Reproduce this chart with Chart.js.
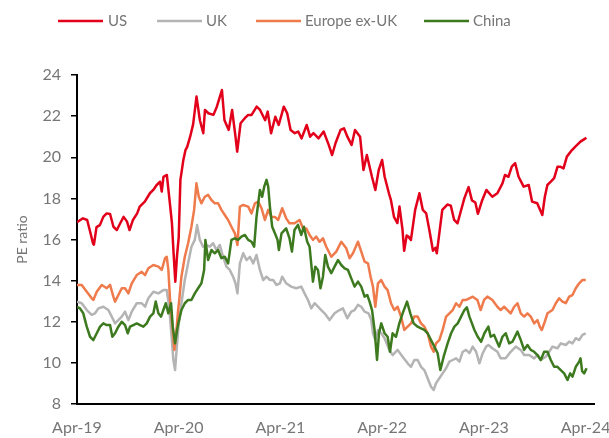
<!DOCTYPE html>
<html>
<head>
<meta charset="utf-8">
<script src="https://cdn.jsdelivr.net/npm/chart.js@4.4.1/dist/chart.umd.min.js"></script>
<style>
html,body{margin:0;padding:0;background:#fff;}
#wrap{position:relative;width:609px;height:438px;}
</style>
</head>
<body>
<div id="wrap"><canvas id="c" width="609" height="438"></canvas></div>
<script>
// ---- data (x = months since Apr-19, y = PE ratio) ----
const tickMonths = [0, 12, 24, 36, 48, 60];
const tickLabels = ['Apr-19', 'Apr-20', 'Apr-21', 'Apr-22', 'Apr-23', 'Apr-24'];
const seriesNames = ['US', 'UK', 'Europe ex-UK', 'China'];

const usPE = [[0,16.84],[0.7,17.03],[1.2,16.95],[1.5,16.46],[1.9,15.8],[2.0,15.75],[2.3,16.6],[2.7,16.7],[3.1,17.1],[3.5,17.27],
[3.9,17.24],[4.3,16.62],[4.7,16.46],[5.1,16.79],[5.5,17.1],[5.9,16.87],[6.2,16.46],[6.6,16.95],[7.1,17.27],[7.4,17.6],
[8.0,17.84],[8.6,18.25],[9.0,18.41],[9.4,18.65],[9.8,18.81],[10.0,18.33],[10.2,19.05],[10.6,19.14],[11.0,17.6],[11.2,16.8],
[11.4,15.3],[11.6,13.95],[11.8,15.2],[12.0,16.1],[12.2,18.9],[12.55,19.87],[12.8,20.35],[13.0,20.5],[13.35,21.0],[13.7,21.6],
[14.1,22.95],[14.5,21.8],[14.9,21.17],[15.1,22.3],[15.5,22.14],[16.1,22.06],[16.5,22.46],[17.1,23.27],[17.4,21.8],[17.9,21.33],
[18.3,22.3],[18.7,21.0],[18.9,20.27],[19.3,21.65],[19.8,21.9],[20.2,22.06],[20.6,22.06],[21.2,22.46],[21.6,22.3],[22.2,21.8],
[22.5,22.22],[22.9,21.17],[23.4,21.97],[23.8,21.57],[24.4,22.46],[24.8,22.14],[25.2,21.33],[25.7,21.17],[26.1,21.25],[26.5,20.92],
[27.1,21.57],[27.5,21.0],[27.9,21.17],[28.5,20.92],[29.1,21.25],[29.7,20.6],[30.1,20.11],[30.5,20.68],[31.1,21.33],[31.5,21.41],
[31.9,21.0],[32.4,20.6],[32.8,21.33],[33.4,21.0],[33.8,19.38],[34.2,20.11],[34.8,19.05],[35.2,18.41],[35.6,19.38],[36.0,19.87],
[36.3,19.05],[36.8,18.25],[37.05,17.9],[37.4,17.1],[37.8,16.8],[38.05,17.6],[38.4,16.5],[38.6,15.45],[38.9,16.2],[39.1,16.14],
[39.4,15.98],[39.9,17.44],[40.4,18.25],[40.8,17.44],[41.2,17.27],[41.6,16.4],[42.0,15.45],[42.3,15.6],[42.45,15.33],[42.75,16.3],
[43.1,17.44],[43.7,17.7],[44.1,17.65],[44.5,16.95],[44.9,16.79],[45.3,17.4],[45.7,18.0],[46.2,18.55],[46.6,17.9],[47.0,17.8],
[47.3,17.25],[47.8,17.9],[48.3,18.41],[49.0,18.08],[49.6,18.25],[50.2,18.73],[50.5,19.14],[50.9,19.05],[51.3,19.54],[51.7,19.71],
[52.1,19.05],[52.7,18.57],[53.3,18.65],[53.7,17.84],[54.3,17.76],[54.9,17.19],[55.2,18.08],[55.5,18.65],[55.9,18.81],[56.3,18.98],
[56.7,19.54],[57.0,19.54],[57.4,19.46],[57.8,20.03],[58.4,20.35],[58.8,20.52],[59.4,20.76],[60.0,20.92],[60.1,20.95]];

const ukPE = [[0,12.98],[0.56,12.9],[1.15,12.57],[1.74,12.33],[2.13,12.41],[2.52,12.65],[3.11,12.73],[3.7,12.57],[4.1,12.25],[4.49,11.92],
[4.88,12.08],[5.28,12.25],[5.67,12.49],[6.06,12.08],[6.46,12.49],[7.05,12.9],[7.64,12.9],[8.03,12.73],[8.42,13.14],[9.01,13.46],
[9.6,13.38],[10.19,13.54],[10.59,13.54],[10.87,12.73],[11.1,11.6],[11.37,10.14],[11.57,9.65],[11.81,10.95],[12.0,11.9],[12.32,12.9],
[12.72,14.03],[13.11,14.84],[13.5,15.65],[13.9,15.98],[14.17,16.7],[14.49,15.98],[14.88,15.65],[15.27,15.73],[15.67,15.65],[16.06,15.82],
[16.45,15.49],[16.85,15.73],[17.24,15.16],[17.63,14.68],[18.03,14.52],[18.42,14.19],[18.7,13.87],[18.93,13.38],[19.22,14.84],[19.61,15.33],
[20.0,15.0],[20.4,15.16],[20.79,14.84],[21.18,15.25],[21.58,14.52],[21.97,14.03],[22.36,14.19],[22.76,14.03],[23.15,14.03],[23.54,13.79],
[23.94,13.87],[24.21,14.19],[24.68,13.87],[25.27,13.71],[25.87,13.63],[26.46,13.71],[26.85,13.38],[27.25,13.06],[27.64,12.65],[28.03,12.9],
[28.43,12.73],[28.82,12.57],[29.21,12.41],[29.8,12.08],[30.39,12.41],[30.98,12.57],[31.38,12.65],[31.89,12.17],[32.36,12.49],[32.75,12.57],
[33.15,12.82],[33.54,12.73],[33.93,12.49],[34.4,12.41],[34.72,12.08],[34.92,11.44],[35.2,11.11],[35.51,11.6],[35.9,11.44],[36.29,11.2],
[36.85,10.63],[37.24,10.38],[37.83,10.63],[38.42,10.3],[39.01,9.98],[39.41,9.81],[39.8,10.14],[40.19,10.14],[40.59,9.81],[40.98,9.65],
[41.37,9.25],[41.77,8.84],[42.08,8.68],[42.36,9.01],[42.75,9.25],[43.14,9.49],[43.55,9.74],[43.94,10.06],[44.33,10.14],[44.73,10.22],
[45.12,10.06],[45.51,10.54],[45.91,10.63],[46.3,10.47],[46.69,10.79],[47.09,10.54],[47.48,9.98],[47.87,10.47],[48.27,10.79],[48.54,10.87],
[49.01,10.71],[49.6,10.54],[49.99,10.22],[50.58,10.22],[51.17,10.54],[51.77,10.79],[52.36,10.63],[52.76,10.38],[53.35,10.38],[53.94,10.22],
[54.33,10.38],[54.72,10.14],[55.31,10.3],[55.71,10.54],[56.1,10.79],[56.69,10.71],[57.08,10.95],[57.67,10.87],[58.07,11.03],[58.46,10.95],
[58.85,11.2],[59.25,11.11],[59.64,11.36],[60.03,11.44]];

const europePE = [[0,13.79],[0.56,13.79],[1.15,13.46],[1.74,13.14],[1.93,13.06],[2.33,13.46],[2.92,13.79],[3.51,13.63],[3.9,13.79],[4.29,13.22],
[4.49,12.98],[4.88,13.3],[5.28,13.63],[5.67,13.63],[6.06,13.38],[6.46,13.87],[7.05,14.27],[7.64,14.43],[8.03,14.27],[8.42,14.6],
[9.01,14.76],[9.6,14.68],[10.0,14.52],[10.39,15.09],[10.59,15.16],[10.78,14.52],[10.98,13.06],[11.26,11.76],[11.49,10.63],[11.77,11.76],
[11.93,12.57],[12.05,13.0],[12.32,14.19],[12.72,15.16],[13.11,15.82],[13.5,16.62],[13.82,17.44],[14.09,18.73],[14.37,18.08],[14.68,17.76],
[15.08,18.08],[15.47,18.17],[15.86,17.92],[16.26,17.76],[16.65,17.76],[17.04,17.44],[17.44,17.19],[17.83,16.95],[18.22,16.62],[18.63,16.3],
[18.93,15.73],[19.22,17.6],[19.61,17.68],[20.2,17.6],[20.59,17.27],[20.99,17.76],[21.38,17.84],[21.77,17.52],[22.17,16.95],[22.56,17.44],
[22.95,17.1],[23.35,17.1],[23.74,16.95],[24.21,17.52],[24.68,17.03],[25.07,16.79],[25.66,16.79],[26.26,16.95],[26.66,16.54],[27.05,16.54],
[27.44,16.22],[27.84,15.98],[28.23,16.14],[28.62,15.89],[29.02,16.06],[29.41,15.65],[30.0,15.16],[30.59,15.41],[31.18,15.89],[31.77,15.57],
[32.16,15.09],[32.56,15.33],[33.15,15.89],[33.54,15.41],[33.93,14.92],[34.33,14.84],[34.64,14.19],[34.92,13.71],[35.2,12.73],[35.51,13.87],
[35.9,14.03],[36.29,13.71],[36.65,13.54],[37.05,12.9],[37.44,12.57],[37.83,12.73],[38.23,12.25],[38.62,11.6],[39.01,11.76],[39.41,11.92],
[39.8,12.25],[40.19,12.25],[40.59,11.92],[40.98,11.76],[41.37,11.44],[41.77,10.79],[42.08,10.54],[42.36,10.95],[42.75,11.11],[43.14,11.6],
[43.55,12.25],[43.94,12.41],[44.33,12.57],[44.73,12.9],[45.12,12.73],[45.51,13.06],[45.91,13.06],[46.3,13.14],[46.69,13.22],[47.24,13.06],
[47.63,12.57],[48.03,13.06],[48.42,13.22],[49.01,13.06],[49.6,12.73],[49.99,12.57],[50.4,12.73],[50.79,12.57],[51.17,12.41],[51.58,12.73],
[51.97,12.9],[52.36,12.41],[52.76,12.25],[53.15,12.41],[53.54,12.25],[53.94,11.92],[54.33,12.08],[54.6,11.76],[54.84,11.6],[55.19,12.0],
[55.51,12.41],[56.1,12.57],[56.49,12.9],[56.89,13.14],[57.28,12.98],[57.67,12.9],[58.07,13.22],[58.46,13.3],[58.85,13.63],[59.25,13.87],
[59.64,14.03],[60.03,14.03]];

const chinaPE = [[0,12.73],[0.35,12.65],[0.74,12.41],[1.15,11.76],[1.54,11.27],[1.93,11.11],[2.33,11.44],[2.72,11.76],[3.11,11.92],[3.51,11.84],
[3.9,11.84],[4.17,11.27],[4.49,11.44],[4.88,11.76],[5.28,12.0],[5.67,11.84],[5.99,11.44],[6.26,11.76],[6.65,11.84],[7.05,11.92],
[7.44,11.84],[7.83,11.76],[8.23,11.92],[8.62,12.25],[9.01,12.41],[9.29,12.98],[9.6,12.41],[9.92,12.25],[10.19,12.57],[10.48,12.9],
[10.78,12.41],[11.1,12.9],[11.3,11.76],[11.57,10.95],[11.81,11.6],[11.96,11.92],[12.32,12.57],[12.72,12.9],[13.11,13.06],[13.5,13.06],
[13.9,13.38],[14.29,13.63],[14.68,13.87],[15.0,14.52],[15.15,15.98],[15.47,15.0],[15.86,15.49],[16.26,15.33],[16.65,15.49],[17.04,15.09],
[17.44,15.16],[17.83,14.84],[18.22,15.98],[18.63,16.06],[19.01,15.98],[19.4,16.14],[19.81,16.22],[20.2,15.98],[20.59,15.89],[20.9,15.65],
[21.18,17.1],[21.58,18.41],[21.85,18.08],[22.09,18.57],[22.36,18.9],[22.56,18.57],[22.76,17.6],[23.03,16.62],[23.35,16.3],[23.66,15.98],
[23.82,15.49],[24.13,16.3],[24.68,16.54],[25.07,16.06],[25.36,15.41],[25.66,16.46],[26.07,16.71],[26.46,16.22],[26.77,16.62],[27.16,15.89],
[27.44,15.65],[27.84,13.95],[28.11,14.68],[28.43,14.52],[28.73,13.63],[29.02,14.19],[29.29,15.25],[29.61,14.68],[30.0,14.36],[30.39,14.68],
[30.79,15.0],[31.18,14.76],[31.57,14.6],[31.97,14.52],[32.36,14.11],[32.75,13.71],[33.15,13.95],[33.54,13.71],[33.93,13.22],[34.25,13.3],
[34.52,12.98],[34.81,12.57],[35.11,11.6],[35.4,10.14],[35.63,11.44],[35.9,11.92],[36.29,11.44],[36.65,11.27],[36.93,10.54],[37.24,11.44],
[37.64,11.27],[38.03,11.92],[38.42,12.41],[38.94,12.98],[39.33,12.41],[39.72,11.92],[40.19,11.76],[40.59,11.68],[40.98,11.6],[41.37,11.44],
[41.77,11.11],[42.16,10.79],[42.55,10.47],[42.87,9.65],[43.26,10.3],[43.73,10.95],[44.14,11.44],[44.53,11.76],[44.92,11.92],[45.32,12.25],
[45.71,12.57],[46.0,12.7],[46.3,12.25],[46.6,11.92],[46.89,11.6],[47.28,11.27],[47.68,11.03],[48.07,11.44],[48.54,11.76],[48.81,11.27],
[49.21,11.36],[49.8,10.79],[50.2,11.27],[50.58,11.44],[50.99,10.95],[51.38,11.03],[51.97,11.52],[52.36,11.11],[52.76,10.63],[53.15,10.87],
[53.54,10.63],[53.94,10.54],[54.33,10.38],[54.72,10.14],[55.12,10.54],[55.51,10.54],[55.9,10.14],[56.3,9.81],[56.69,9.81],[57.08,9.65],
[57.48,9.49],[57.87,9.17],[58.19,9.49],[58.46,9.33],[58.85,9.81],[59.25,10.06],[59.41,10.22],[59.6,9.6],[59.84,9.49],[60.12,9.74]];

// ---- styling ----
const colors = ['#E2001A', '#B4B4B4', '#EF7A4B', '#3D7A1F'];
const textColor = '#767676';
const legendSlots = [{line: 58, text: 108}, {line: 157, text: 206}, {line: 256, text: 305}, {line: 424, text: 473}];

const toPoints = arr => arr.map(p => ({x: p[0], y: p[1]}));
const seriesData = [usPE, ukPE, europePE, chinaPE];

const topLegend = {
  id: 'topLegend',
  afterDraw(chart) {
    const ctx = chart.ctx;
    ctx.save();
    chart.data.datasets.forEach((ds, i) => {
      const s = legendSlots[i];
      ctx.strokeStyle = ds.borderColor;
      ctx.lineWidth = 2.5;
      ctx.beginPath();
      ctx.moveTo(s.line, 21);
      ctx.lineTo(s.line + 45, 21);
      ctx.stroke();
      ctx.fillStyle = textColor;
      ctx.font = '15px Lato';
      ctx.textBaseline = 'middle';
      ctx.textAlign = 'left';
      ctx.fillText(ds.label, s.text, 21.5);
    });
    ctx.restore();
  }
};

new Chart(document.getElementById('c'), {
  type: 'line',
  data: {
    datasets: seriesNames.map((name, i) => ({
      label: name,
      data: toPoints(seriesData[i]),
      borderColor: colors[i],
      backgroundColor: colors[i],
      borderWidth: 2.5,
      borderJoinStyle: 'round',
      pointRadius: 0,
      tension: 0,
      order: 3 - i
    }))
  },
  options: {
    responsive: false,
    animation: false,
    layout: {padding: {top: 75, right: 15, bottom: 0, left: 0}},
    plugins: {legend: {display: false}, tooltip: {enabled: false}},
    scales: {
      x: {
        type: 'linear',
        min: 0,
        max: 61,
        afterBuildTicks: s => { s.ticks = tickMonths.map(v => ({value: v})); },
        afterFit: s => { s.height = 34; s.paddingLeft = 0; s.paddingRight = 0; },
        grid: {display: false},
        border: {display: true, color: '#000', width: 2},
        ticks: {
          autoSkip: false,
          maxRotation: 0,
          padding: 6,
          color: textColor,
          font: {family: 'Lato', size: 16},
          callback: v => tickLabels[tickMonths.indexOf(v)]
        }
      },
      y: {
        min: 8,
        max: 24,
        afterFit: s => { s.width = 77; },
        grid: {display: true, drawOnChartArea: false, drawTicks: true, tickLength: 6, color: '#000', lineWidth: 1.5},
        border: {display: true, color: '#000', width: 2},
        ticks: {
          stepSize: 2,
          padding: 10,
          color: textColor,
          font: {family: 'Lato', size: 16}
        },
        title: {
          display: true,
          text: 'PE ratio',
          color: textColor,
          font: {family: 'Lato', size: 14},
          padding: {top: 14, bottom: 0}
        }
      }
    }
  },
  plugins: [topLegend]
});
</script>
</body>
</html>
